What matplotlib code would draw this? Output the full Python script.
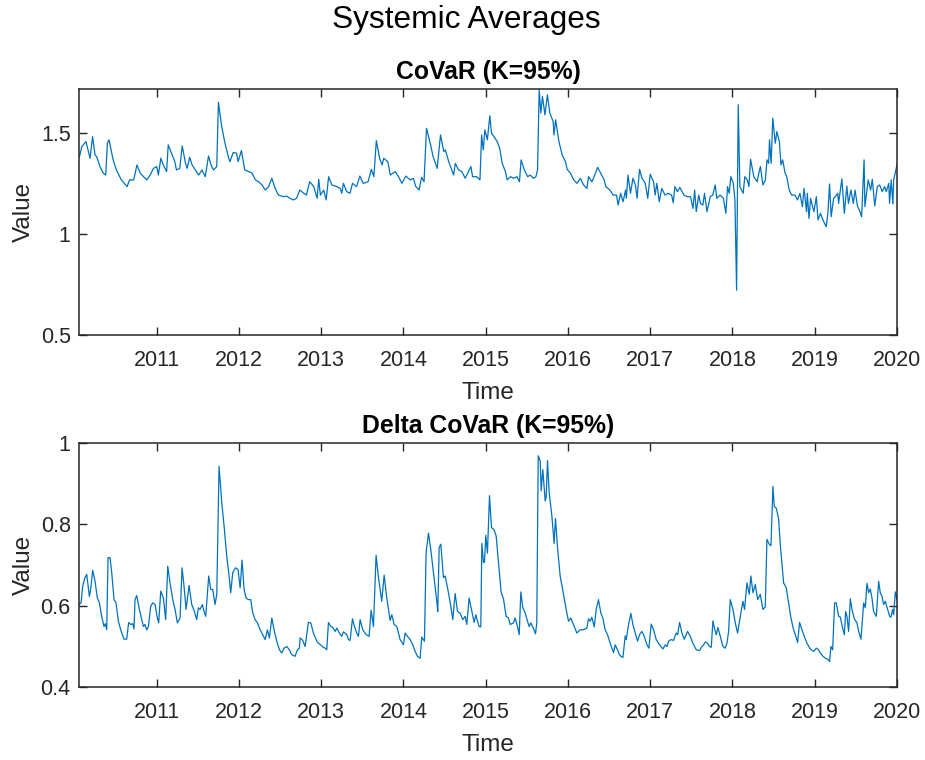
import matplotlib
matplotlib.use("Agg")
import matplotlib.pyplot as plt


# GLOBALS #
GRAPH_FILENAME = "out.png"
LINE_COLOR = "#0072BD"
AXIS_COLOR = "#262626"
xLABEL = "Time"
yLABEL = "Value"

YEAR_TICKS = [2011, 2012, 2013, 2014, 2015, 2016, 2017, 2018, 2019, 2020]
YEAR_LABELS = [str(y) for y in YEAR_TICKS]

# weekly-ish CoVaR average (decimal years, value)
covar_time = [
    2010.06, 2010.09, 2010.14, 2010.17, 2010.19, 2010.22, 2010.25, 2010.27, 2010.31, 2010.35,
    2010.38, 2010.40, 2010.42, 2010.47, 2010.51, 2010.57, 2010.64, 2010.67, 2010.72, 2010.76,
    2010.80, 2010.84, 2010.88, 2010.92, 2010.96, 2011.00, 2011.02, 2011.05, 2011.08, 2011.12,
    2011.14, 2011.18, 2011.22, 2011.24, 2011.28, 2011.31, 2011.35, 2011.37, 2011.40, 2011.43,
    2011.47, 2011.51, 2011.55, 2011.59, 2011.63, 2011.66, 2011.69, 2011.73, 2011.75, 2011.79,
    2011.83, 2011.87, 2011.89, 2011.93, 2011.97, 2011.99, 2012.03, 2012.07, 2012.12, 2012.16,
    2012.20, 2012.24, 2012.28, 2012.32, 2012.36, 2012.40, 2012.44, 2012.48, 2012.54, 2012.58,
    2012.62, 2012.66, 2012.70,
    2012.74, 2012.78, 2012.82, 2012.86, 2012.91, 2012.95, 2012.97, 2012.99, 2013.03, 2013.06,
    2013.09, 2013.13, 2013.19, 2013.23, 2013.25, 2013.27, 2013.31, 2013.35, 2013.38, 2013.43,
    2013.47, 2013.51, 2013.57, 2013.61, 2013.64, 2013.67, 2013.71, 2013.74, 2013.76, 2013.81,
    2013.84, 2013.90, 2013.94, 2013.98, 2014.03, 2014.08, 2014.12, 2014.15, 2014.19, 2014.22,
    2014.25, 2014.28, 2014.33, 2014.36, 2014.41, 2014.45, 2014.49, 2014.51, 2014.55, 2014.61,
    2014.63, 2014.67, 2014.71, 2014.75, 2014.79, 2014.82, 2014.84, 2014.89, 2014.93, 2014.95,
    2014.97, 2014.99, 2015.02, 2015.05, 2015.07, 2015.10, 2015.14, 2015.17, 2015.20, 2015.24,
    2015.26, 2015.30, 2015.34, 2015.38, 2015.41, 2015.43, 2015.47, 2015.51, 2015.54, 2015.58,
    2015.61, 2015.63, 2015.65, 2015.67, 2015.69, 2015.72, 2015.75, 2015.78, 2015.82, 2015.83,
    2015.85, 2015.89, 2015.93, 2015.97, 2015.99, 2016.03, 2016.07, 2016.11, 2016.15, 2016.19,
    2016.23, 2016.25, 2016.29, 2016.31, 2016.36, 2016.41, 2016.44, 2016.46, 2016.51, 2016.55,
    2016.59, 2016.61, 2016.64,
    2016.67, 2016.70, 2016.71, 2016.73, 2016.76, 2016.79, 2016.82, 2016.84, 2016.87, 2016.90,
    2016.94, 2016.97, 2017.00, 2017.04, 2017.06, 2017.08, 2017.11, 2017.14, 2017.18, 2017.22,
    2017.26, 2017.28, 2017.30, 2017.33, 2017.36, 2017.41, 2017.45, 2017.49, 2017.52, 2017.54,
    2017.56, 2017.59, 2017.61, 2017.64, 2017.66, 2017.69, 2017.73, 2017.76, 2017.79, 2017.81,
    2017.85, 2017.89, 2017.92, 2017.94, 2017.96, 2017.98, 2018.01, 2018.03, 2018.05, 2018.07,
    2018.09, 2018.13, 2018.15, 2018.18, 2018.20, 2018.22, 2018.26, 2018.30, 2018.32, 2018.34,
    2018.37, 2018.40, 2018.42, 2018.44, 2018.45, 2018.47, 2018.49, 2018.52, 2018.54, 2018.57,
    2018.59, 2018.61, 2018.64, 2018.66, 2018.69, 2018.72, 2018.76, 2018.79, 2018.82, 2018.85,
    2018.87, 2018.90, 2018.91, 2018.93, 2018.95, 2018.99, 2019.02, 2019.04, 2019.07, 2019.10,
    2019.14, 2019.16, 2019.18, 2019.20, 2019.23, 2019.25, 2019.28, 2019.29, 2019.33, 2019.36,
    2019.39, 2019.41, 2019.44, 2019.47, 2019.49, 2019.52, 2019.55, 2019.57, 2019.60, 2019.61,
    2019.65, 2019.68, 2019.70, 2019.73, 2019.76, 2019.79, 2019.82, 2019.85, 2019.87, 2019.90,
    2019.91, 2019.93, 2019.95, 2019.96, 2020.00,
]
covar_value = [
    1.381, 1.431, 1.455, 1.406, 1.373, 1.480, 1.389, 1.381, 1.332, 1.299,
    1.290, 1.447, 1.464, 1.365, 1.315, 1.266, 1.233, 1.266, 1.266, 1.340,
    1.299, 1.282, 1.266, 1.290, 1.323, 1.332, 1.290, 1.373, 1.340, 1.307,
    1.439, 1.398, 1.356, 1.315, 1.323, 1.434, 1.348, 1.323, 1.378, 1.340,
    1.315, 1.290, 1.315, 1.282, 1.384, 1.340, 1.315, 1.332, 1.649, 1.530,
    1.447, 1.381, 1.356, 1.401, 1.398, 1.356, 1.411, 1.315, 1.307, 1.299,
    1.266, 1.257, 1.241, 1.216, 1.233, 1.274, 1.224, 1.191, 1.183, 1.186,
    1.175, 1.167, 1.175,
    1.216, 1.203, 1.191, 1.257, 1.233, 1.175, 1.269, 1.191, 1.216, 1.167,
    1.282, 1.241, 1.233, 1.224, 1.200, 1.249, 1.208, 1.200, 1.249, 1.233,
    1.285, 1.249, 1.257, 1.318, 1.282, 1.460, 1.373, 1.340, 1.373, 1.356,
    1.290, 1.307, 1.282, 1.249, 1.285, 1.266, 1.274, 1.233, 1.216, 1.279,
    1.257, 1.521, 1.439, 1.381, 1.323, 1.488, 1.406, 1.414, 1.356, 1.290,
    1.348, 1.315, 1.307, 1.274, 1.307, 1.332, 1.282, 1.282, 1.266, 1.488,
    1.414, 1.513, 1.464, 1.583, 1.497, 1.480, 1.455, 1.422, 1.348, 1.307,
    1.266, 1.282, 1.274, 1.282, 1.257, 1.365, 1.315, 1.282, 1.290, 1.274,
    1.282, 1.315, 1.711, 1.596, 1.678, 1.587, 1.686, 1.596, 1.554, 1.488,
    1.563, 1.455, 1.389, 1.356, 1.318, 1.299, 1.266, 1.249, 1.274, 1.241,
    1.224, 1.282, 1.257, 1.274, 1.328, 1.290, 1.266, 1.233, 1.216, 1.191,
    1.191, 1.142, 1.200,
    1.158, 1.216, 1.175, 1.290, 1.200, 1.274, 1.241, 1.175, 1.318, 1.274,
    1.249, 1.175, 1.294, 1.257, 1.191, 1.249, 1.158, 1.224, 1.191, 1.200,
    1.191, 1.153, 1.233, 1.208, 1.229, 1.191, 1.183, 1.183, 1.125, 1.216,
    1.109, 1.191, 1.150, 1.142, 1.200, 1.109, 1.183, 1.191, 1.241, 1.175,
    1.191, 1.175, 1.101, 1.233, 1.200, 1.282, 1.249, 1.167, 0.721, 1.637,
    1.233, 1.200, 1.282, 1.266, 1.233, 1.368, 1.282, 1.257, 1.299, 1.332,
    1.241, 1.266, 1.365, 1.348, 1.464, 1.348, 1.571, 1.447, 1.505, 1.455,
    1.340, 1.365, 1.299, 1.282, 1.216, 1.191, 1.191, 1.167, 1.200, 1.134,
    1.224, 1.109, 1.200, 1.076, 1.175, 1.109, 1.183, 1.068, 1.101, 1.068,
    1.035, 1.101, 1.246, 1.084, 1.175, 1.183, 1.200, 1.150, 1.271, 1.101,
    1.236, 1.150, 1.216, 1.150, 1.216, 1.137, 1.109, 1.084, 1.365, 1.134,
    1.266, 1.216, 1.269, 1.137, 1.233, 1.241, 1.208, 1.233, 1.208, 1.249,
    1.150, 1.266, 1.147, 1.266, 1.340,
]

# Delta CoVaR average (decimal years, value)
delta_time = [
    2010.055, 2010.080, 2010.100, 2010.128, 2010.149, 2010.181, 2010.197, 2010.222, 2010.250, 2010.278,
    2010.303, 2010.331, 2010.359, 2010.376, 2010.392, 2010.408, 2010.432, 2010.453, 2010.481, 2010.505,
    2010.534, 2010.562, 2010.603, 2010.635, 2010.659, 2010.684, 2010.708, 2010.724, 2010.736, 2010.757,
    2010.789, 2010.818, 2010.838, 2010.858, 2010.878, 2010.899, 2010.927, 2010.951, 2010.980, 2011.008,
    2011.024, 2011.049, 2011.081, 2011.109, 2011.134, 2011.162, 2011.195, 2011.223, 2011.251, 2011.284,
    2011.308, 2011.332, 2011.357, 2011.393, 2011.426, 2011.458, 2011.486, 2011.507, 2011.527, 2011.555,
    2011.576, 2011.596, 2011.632, 2011.657, 2011.681, 2011.709, 2011.730, 2011.758, 2011.791, 2011.819,
    2011.851, 2011.880, 2011.900, 2011.924, 2011.957, 2011.989, 2012.014, 2012.038, 2012.062, 2012.086,
    2012.115, 2012.143, 2012.168, 2012.196, 2012.224, 2012.257, 2012.289, 2012.318, 2012.346, 2012.370,
    2012.399, 2012.427, 2012.459, 2012.492, 2012.520, 2012.549, 2012.581, 2012.613, 2012.642, 2012.682,
    2012.711, 2012.735,
    2012.743, 2012.775, 2012.804, 2012.844, 2012.873, 2012.905, 2012.946, 2012.966, 2012.994, 2013.019,
    2013.047, 2013.067, 2013.088, 2013.116, 2013.140, 2013.169, 2013.189, 2013.221, 2013.250, 2013.270,
    2013.311, 2013.331, 2013.351, 2013.380, 2013.404, 2013.432, 2013.453, 2013.473, 2013.505, 2013.546,
    2013.582, 2013.607, 2013.635, 2013.667, 2013.696, 2013.736, 2013.765, 2013.797, 2013.838, 2013.858,
    2013.886, 2013.919, 2013.959, 2014.000, 2014.020, 2014.048, 2014.081, 2014.113, 2014.142, 2014.170,
    2014.202, 2014.223, 2014.255, 2014.275, 2014.304, 2014.332, 2014.365, 2014.405, 2014.417, 2014.434,
    2014.454, 2014.486, 2014.507, 2014.547, 2014.575, 2014.600, 2014.628, 2014.657, 2014.689, 2014.721,
    2014.750, 2014.770, 2014.798, 2014.831, 2014.859, 2014.880, 2014.900, 2014.920, 2014.940, 2014.953,
    2014.973, 2014.985, 2015.001, 2015.021, 2015.046, 2015.070, 2015.102, 2015.127, 2015.155, 2015.188,
    2015.216, 2015.248, 2015.277, 2015.297, 2015.338, 2015.358, 2015.386, 2015.407, 2015.427, 2015.451,
    2015.480, 2015.508, 2015.528, 2015.548, 2015.581, 2015.605, 2015.621, 2015.638, 2015.662, 2015.674,
    2015.694, 2015.723, 2015.735, 2015.751, 2015.771, 2015.804, 2015.832, 2015.848, 2015.873, 2015.905,
    2015.946, 2015.986, 2016.007, 2016.035, 2016.067, 2016.108, 2016.148, 2016.189, 2016.229, 2016.250,
    2016.270, 2016.290, 2016.319, 2016.343, 2016.371, 2016.400, 2016.424, 2016.452, 2016.481, 2016.513,
    2016.554, 2016.574, 2016.602, 2016.627,
    2016.643, 2016.668, 2016.696, 2016.708, 2016.737, 2016.765, 2016.789, 2016.818, 2016.846, 2016.870,
    2016.899, 2016.927, 2016.960, 2016.984, 2017.012, 2017.041, 2017.073, 2017.114, 2017.154, 2017.183,
    2017.203, 2017.223, 2017.251, 2017.284, 2017.316, 2017.333, 2017.357, 2017.385, 2017.414, 2017.454,
    2017.487, 2017.519, 2017.560, 2017.600, 2017.629, 2017.649, 2017.669, 2017.697, 2017.722, 2017.742,
    2017.762, 2017.783, 2017.803, 2017.823, 2017.851, 2017.884, 2017.912, 2017.933, 2017.953, 2017.973,
    2018.006, 2018.034, 2018.062, 2018.095, 2018.127, 2018.147, 2018.176, 2018.204, 2018.224, 2018.249,
    2018.277, 2018.306, 2018.338, 2018.370, 2018.399, 2018.419, 2018.447, 2018.468, 2018.492, 2018.508,
    2018.533, 2018.561, 2018.581, 2018.601, 2018.622, 2018.654, 2018.683, 2018.711, 2018.743, 2018.764,
    2018.792, 2018.816, 2018.845, 2018.873, 2018.906, 2018.946, 2018.987, 2019.019, 2019.047, 2019.068,
    2019.100, 2019.133, 2019.157, 2019.181, 2019.197, 2019.218, 2019.242, 2019.262, 2019.291, 2019.311,
    2019.335, 2019.360, 2019.376, 2019.392, 2019.412, 2019.433, 2019.453, 2019.481, 2019.514, 2019.534,
    2019.562, 2019.595, 2019.615, 2019.635, 2019.656, 2019.676, 2019.696, 2019.716, 2019.749, 2019.777,
    2019.797, 2019.818, 2019.838, 2019.858, 2019.887, 2019.911, 2019.927, 2019.947, 2019.960, 2019.980,
    2020.000,
]
delta_value = [
    0.603, 0.607, 0.648, 0.669, 0.677, 0.623, 0.640, 0.687, 0.660, 0.619,
    0.607, 0.574, 0.549, 0.556, 0.541, 0.718, 0.718, 0.681, 0.615, 0.607,
    0.562, 0.541, 0.518, 0.518, 0.559, 0.554, 0.556, 0.543, 0.615, 0.625,
    0.591, 0.566, 0.549, 0.554, 0.541, 0.549, 0.599, 0.607, 0.603, 0.570,
    0.558, 0.636, 0.619, 0.566, 0.697, 0.656, 0.615, 0.591, 0.558, 0.570,
    0.693, 0.648, 0.591, 0.650, 0.603, 0.586, 0.566, 0.595, 0.591, 0.603,
    0.586, 0.574, 0.673, 0.640, 0.640, 0.603, 0.628, 0.942, 0.853, 0.796,
    0.722, 0.673, 0.632, 0.681, 0.693, 0.689, 0.644, 0.712, 0.640, 0.619,
    0.615, 0.615, 0.582, 0.566, 0.558, 0.541, 0.529, 0.517, 0.541, 0.521,
    0.570, 0.541, 0.513, 0.492, 0.484, 0.496, 0.500, 0.492, 0.480, 0.476,
    0.492, 0.496,
    0.521, 0.515, 0.500, 0.559, 0.558, 0.533, 0.513, 0.508, 0.504, 0.499,
    0.496, 0.492, 0.559, 0.549, 0.547, 0.537, 0.545, 0.533, 0.525, 0.536,
    0.529, 0.517, 0.515, 0.568, 0.549, 0.533, 0.525, 0.566, 0.541, 0.529,
    0.525, 0.589, 0.549, 0.724, 0.669, 0.611, 0.675, 0.619, 0.564, 0.578,
    0.554, 0.549, 0.517, 0.504, 0.533, 0.525, 0.517, 0.504, 0.488, 0.476,
    0.471, 0.523, 0.513, 0.730, 0.778, 0.738, 0.681, 0.611, 0.586, 0.743,
    0.751, 0.669, 0.673, 0.632, 0.599, 0.566, 0.630, 0.586, 0.582, 0.566,
    0.574, 0.554, 0.619, 0.586, 0.559, 0.578, 0.562, 0.549, 0.548, 0.753,
    0.706, 0.707, 0.773, 0.729, 0.870, 0.792, 0.786, 0.771, 0.706, 0.632,
    0.617, 0.574, 0.570, 0.554, 0.558, 0.570, 0.549, 0.529, 0.634, 0.595,
    0.582, 0.562, 0.549, 0.558, 0.544, 0.531, 0.558, 0.968, 0.956, 0.882,
    0.934, 0.857, 0.866, 0.956, 0.878, 0.821, 0.753, 0.814, 0.743, 0.673,
    0.628, 0.582, 0.562, 0.570, 0.554, 0.533, 0.541, 0.541, 0.545, 0.568,
    0.562, 0.572, 0.548, 0.591, 0.615, 0.582, 0.570, 0.541, 0.529, 0.508,
    0.485, 0.504, 0.492, 0.480,
    0.476, 0.473, 0.526, 0.517, 0.554, 0.581, 0.554, 0.533, 0.513, 0.529,
    0.537, 0.525, 0.504, 0.496, 0.555, 0.541, 0.517, 0.504, 0.494, 0.504,
    0.500, 0.513, 0.517, 0.515, 0.533, 0.529, 0.559, 0.533, 0.518, 0.537,
    0.525, 0.508, 0.492, 0.490, 0.500, 0.504, 0.511, 0.508, 0.500, 0.498,
    0.563, 0.543, 0.529, 0.547, 0.525, 0.500, 0.496, 0.508, 0.537, 0.615,
    0.591, 0.558, 0.533, 0.574, 0.611, 0.591, 0.656, 0.628, 0.673, 0.632,
    0.652, 0.615, 0.628, 0.591, 0.597, 0.763, 0.751, 0.747, 0.893, 0.844,
    0.839, 0.814, 0.751, 0.706, 0.656, 0.644, 0.607, 0.570, 0.541, 0.529,
    0.510, 0.559, 0.541, 0.525, 0.508, 0.494, 0.488, 0.496, 0.492, 0.484,
    0.476, 0.471, 0.469, 0.463, 0.500, 0.492, 0.607, 0.607, 0.574, 0.572,
    0.549, 0.529, 0.586, 0.574, 0.537, 0.617, 0.591, 0.568, 0.558, 0.537,
    0.518, 0.607, 0.595, 0.655, 0.632, 0.641, 0.619, 0.586, 0.574, 0.660,
    0.632, 0.623, 0.603, 0.611, 0.591, 0.574, 0.572, 0.591, 0.578, 0.634,
    0.615,
]

X_START = 2010.055
X_END = 2020.0


def drawPanel(ax, times, values, title, ylim, yticks):
    ax.plot(times, values, color=LINE_COLOR, linewidth=0.9)

    ax.set_xlim(X_START, X_END)
    ax.set_ylim(*ylim)
    ax.set_xticks(YEAR_TICKS)
    ax.set_xticklabels(YEAR_LABELS)
    ax.set_yticks(yticks)
    ax.set_yticklabels(["%g" % t for t in yticks])

    ax.set_title(title, fontsize=17.8, fontweight="bold", pad=7)
    ax.set_xlabel(xLABEL, fontsize=17.5, color=AXIS_COLOR, labelpad=8)
    ax.set_ylabel(yLABEL, fontsize=17.5, color=AXIS_COLOR, labelpad=4)

    # MATLAB-like box: ticks inside on all four sides
    ax.tick_params(direction="in", top=True, right=True, length=6, width=1.0,
                   labelsize=15.5, colors=AXIS_COLOR, pad=6)
    ax.tick_params(axis="x", pad=10.5)
    for spine in ax.spines.values():
        spine.set_linewidth(1.1)
        spine.set_color(AXIS_COLOR)


def main():
    plt.rcParams["font.family"] = ["Liberation Sans", "DejaVu Sans"]

    fig = plt.figure(figsize=(9.25, 7.6), dpi=100)
    ax1 = fig.add_axes([0.0854, 0.5592, 0.8843, 0.3237])
    ax2 = fig.add_axes([0.0854, 0.0957, 0.8843, 0.3218])

    drawPanel(ax1, covar_time, covar_value, "CoVaR (K=95%)",
              (0.5, 1.715), [0.5, 1.0, 1.5])
    drawPanel(ax2, delta_time, delta_value, "Delta CoVaR (K=95%)",
              (0.4, 1.0), [0.4, 0.6, 0.8, 1.0])

    fig.text(0.504, 0.9628, "Systemic Averages", fontsize=22.8,
             ha="center", va="baseline", color="black")

    fig.savefig(GRAPH_FILENAME, dpi=100)
    plt.close(fig)


main()
